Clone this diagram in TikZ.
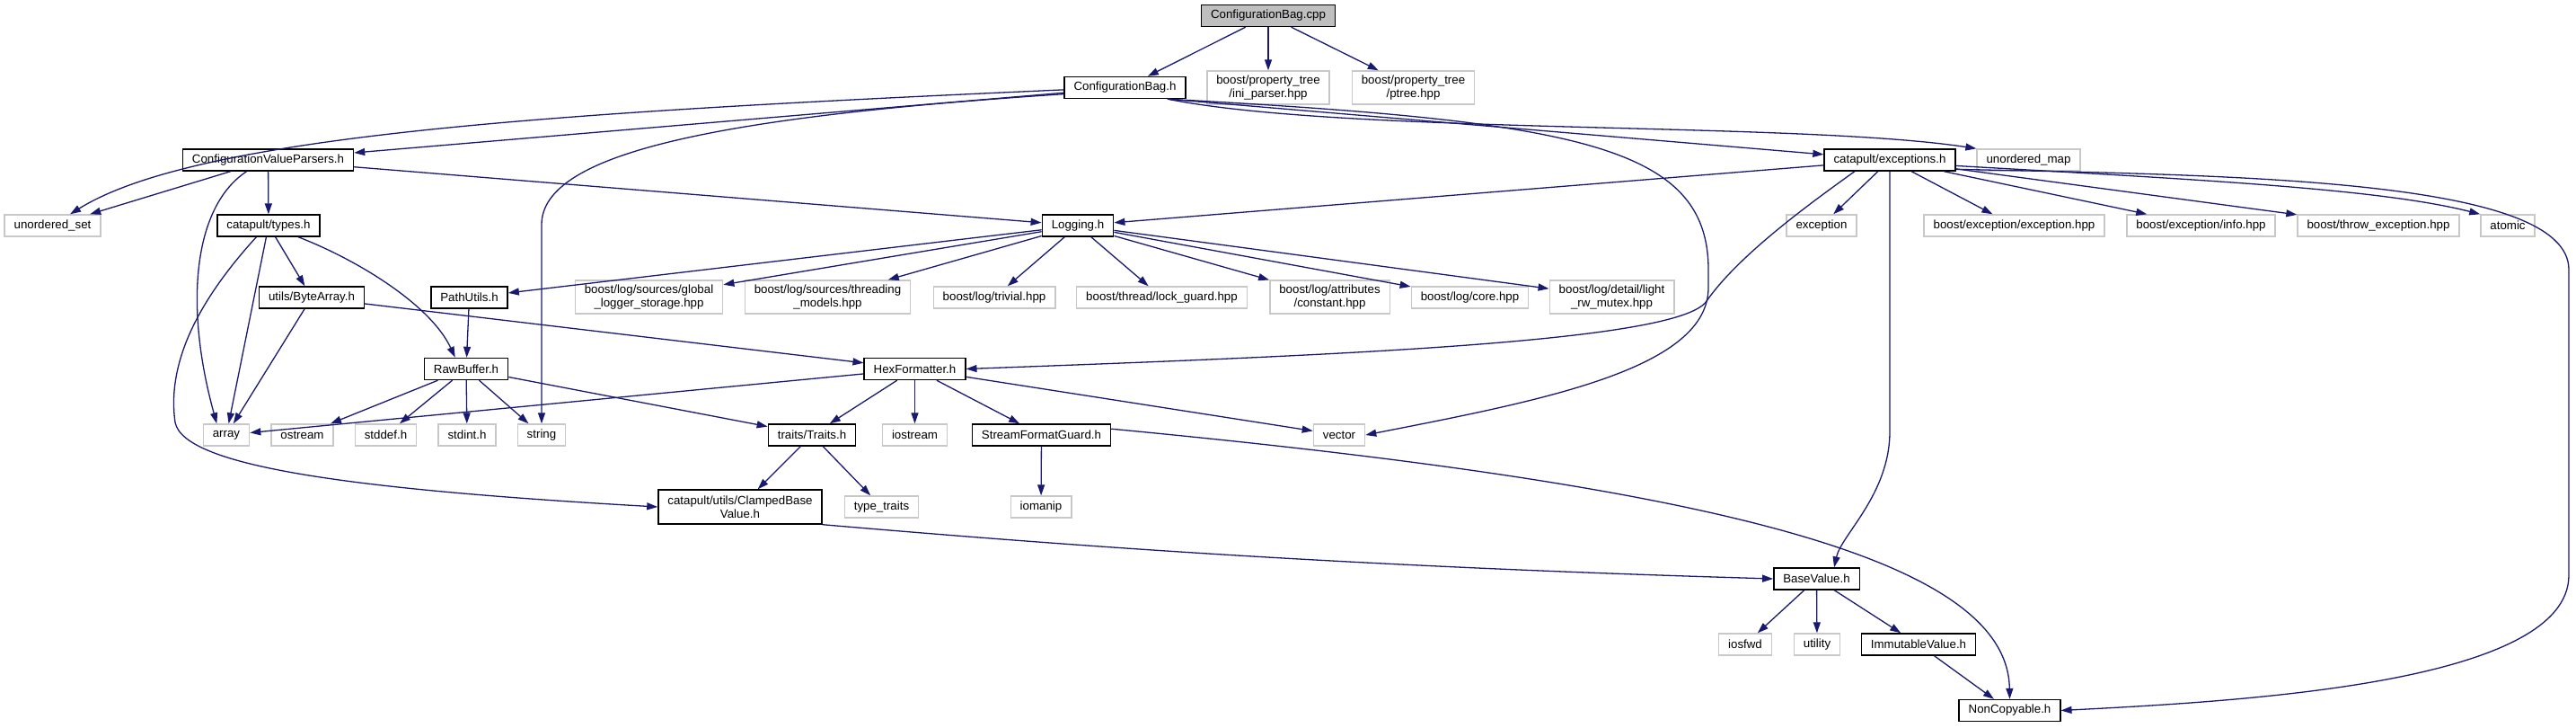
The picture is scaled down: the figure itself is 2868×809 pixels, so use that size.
\documentclass[tikz,border=0pt]{standalone}
\usepackage{fontspec}
\setmainfont{Liberation Sans}
\usepackage{tikz}
\usetikzlibrary{arrows.meta, positioning}

\definecolor{edgeblue}{RGB}{25,25,112}
\definecolor{sysgray}{RGB}{200,200,200}
\definecolor{rootgray}{RGB}{191,191,191}

\begin{document}
\begin{tikzpicture}[x=1pt, y=-1pt,
    every node/.style={font=\fontsize{13.3}{14.6}\selectfont, inner xsep=10.5pt, inner ysep=0pt, minimum height=24pt, line width=1.4pt},
    hdr/.style={draw=black, fill=white},
    sys/.style={draw=sysgray, fill=white},
    root/.style={draw=black, fill=rootgray},
    two/.style={align=center, minimum height=37pt},
    dep/.style={draw=edgeblue, line width=1.3pt, -{Triangle[length=12pt, width=8pt]}}]
    \useasboundingbox (0,0) rectangle (2868,809);

    % Root file and its direct includes
    \node[root] (cpp) at (1412,17.5) {ConfigurationBag.cpp};
    \node[hdr] (bagh) at (1252.5,97.5) {ConfigurationBag.h};
    \node[sys, two] (ini) at (1412,97.5) {boost/property\_tree\\/ini\_parser.hpp};
    \node[sys, two] (ptree) at (1573.5,97.5) {boost/property\_tree\\/ptree.hpp};

    % Second row
    \node[hdr] (cvp) at (298.5,178) {ConfigurationValueParsers.h};
    \node[hdr] (exc) at (2104,178) {catapult/exceptions.h};
    \node[sys] (umap) at (2258.5,178) {unordered\_map};

    % Third row
    \node[sys] (uset) at (58.5,251) {unordered\_set};
    \node[hdr] (types) at (299,251) {catapult/types.h};
    \node[hdr] (logging) at (1200,251) {Logging.h};
    \node[sys] (exception) at (2028,251) {exception};
    \node[sys] (bexc) at (2242.5,251) {boost/exception/exception.hpp};
    \node[sys] (binfo) at (2450.5,251) {boost/exception/info.hpp};
    \node[sys] (bthrow) at (2648,251) {boost/throw\_exception.hpp};
    \node[sys] (atomic) at (2792,251) {atomic};

    % Logging includes
    \node[hdr] (bytearray) at (347,331) {utils/ByteArray.h};
    \node[hdr] (pathutils) at (522.5,331) {PathUtils.h};
    \node[sys, two] (glogger) at (722.5,330.5) {boost/log/sources/global\\\_logger\_storage.hpp};
    \node[sys, two] (threading) at (921.5,330.5) {boost/log/sources/threading\\\_models.hpp};
    \node[sys] (trivial) at (1107,331) {boost/log/trivial.hpp};
    \node[sys] (lockguard) at (1293.5,331) {boost/thread/lock\_guard.hpp};
    \node[sys, two] (constant) at (1480.5,330.5) {boost/log/attributes\\/constant.hpp};
    \node[sys] (core) at (1636.5,331) {boost/log/core.hpp};
    \node[sys, two] (rwmutex) at (1794.5,330.5) {boost/log/detail/light\\\_rw\_mutex.hpp};

    % Buffers and formatters
    \node[hdr] (rawbuffer) at (519,410.5) {RawBuffer.h};
    \node[hdr] (hexfmt) at (1018.5,410.5) {HexFormatter.h};

    % Standard headers row
    \node[sys] (array) at (252,484) {array};
    \node[sys] (ostream) at (336.5,484) {ostream};
    \node[sys] (stddef) at (429.5,484) {stddef.h};
    \node[sys] (stdint) at (520,484) {stdint.h};
    \node[sys] (string) at (603,484) {string};
    \node[hdr] (traits) at (904,484) {traits/Traits.h};
    \node[sys] (iostream) at (1018.5,484) {iostream};
    \node[hdr] (sfg) at (1159.5,484) {StreamFormatGuard.h};
    \node[sys] (vector) at (1491,484) {vector};

    % Lower rows
    \node[hdr, two, minimum height=38pt] (clamped) at (824,564) {catapult/utils/ClampedBase\\Value.h};
    \node[sys] (typetraits) at (981.5,564) {type\_traits};
    \node[sys] (iomanip) at (1159,564) {iomanip};
    \node[hdr] (basevalue) at (2022.5,644) {BaseValue.h};
    \node[sys] (iosfwd) at (1943,717) {iosfwd};
    \node[sys] (utility) at (2023,717) {utility};
    \node[hdr] (immutable) at (2136,717) {ImmutableValue.h};
    \node[hdr] (noncopy) at (2237.5,790.5) {NonCopyable.h};

    % ConfigurationBag.cpp
    \draw[dep] (cpp) -- (bagh);
    \draw[dep] (cpp) -- (ini);
    \draw[dep] (cpp) -- (ptree);

    % ConfigurationBag.h
    \draw[dep] (bagh.182) .. controls (620,125) and (220,150) .. (uset.33);
    \draw[dep] (bagh.186) .. controls (800,130) and (603,170) .. (603,250) -- (string);
    \draw[dep] (bagh) -- (cvp);
    \draw[dep] (bagh.-15) -- (exc);
    \draw[dep] (bagh.-15) .. controls (1500,150) and (2000,135) .. (umap.north west);
    \draw[dep] (bagh.-15) .. controls (1750,135) and (1902,160) .. (1902,300) -- (1902,320) .. controls (1902,410) and (1720,445) .. (vector.east);

    % ConfigurationValueParsers.h
    \draw[dep] (cvp) -- (uset);
    \draw[dep] (cvp) -- (types);
    \draw[dep] (cvp.-152) .. controls (215,230) and (205,340) .. (array.130);
    \draw[dep] (cvp) -- (logging);

    % catapult/types.h
    \draw[dep] (types) -- (array);
    \draw[dep] (types) -- (bytearray);
    \draw[dep] (types.-21) .. controls (400,290) and (480,340) .. (rawbuffer.134);
    \draw[dep] (types.-137) .. controls (225,330) and (185,400) .. (195,470) .. controls (205,520) and (400,545) .. (clamped.west);

    % utils/ByteArray.h and PathUtils.h
    \draw[dep] (bytearray) -- (array);
    \draw[dep] (bytearray) -- (hexfmt);
    \draw[dep] (pathutils) -- (rawbuffer);

    % Logging.h
    \draw[dep] (logging) -- (pathutils);
    \draw[dep] (logging) -- (glogger);
    \draw[dep] (logging) -- (threading);
    \draw[dep] (logging) -- (trivial);
    \draw[dep] (logging) -- (lockguard);
    \draw[dep] (logging) -- (constant);
    \draw[dep] (logging) -- (core);
    \draw[dep] (logging) -- (rwmutex);

    % RawBuffer.h
    \draw[dep] (rawbuffer) -- (ostream);
    \draw[dep] (rawbuffer) -- (stddef);
    \draw[dep] (rawbuffer) -- (stdint);
    \draw[dep] (rawbuffer) -- (string);
    \draw[dep] (rawbuffer) -- (traits);

    % HexFormatter.h
    \draw[dep] (hexfmt) -- (array);
    \draw[dep] (hexfmt) -- (traits);
    \draw[dep] (hexfmt) -- (iostream);
    \draw[dep] (hexfmt) -- (sfg);
    \draw[dep] (hexfmt) -- (vector);

    % StreamFormatGuard.h and traits/Traits.h
    \draw[dep] (sfg) -- (iomanip);
    \draw[dep] (sfg.5) .. controls (1900,540) and (2235,620) .. (noncopy.north);
    \draw[dep] (traits) -- (clamped);
    \draw[dep] (traits) -- (typetraits);
    \draw[dep] (clamped.south east) .. controls (1200,608) and (1500,630) .. (basevalue.west);

    % catapult/exceptions.h
    \draw[dep] (exc) -- (logging);
    \draw[dep] (exc.198) .. controls (2010,230) and (1935,285) .. (1900,335) .. controls (1870,380) and (1500,395) .. (hexfmt.east);
    \draw[dep] (exc) -- (exception);
    \draw[dep] (exc) -- (bexc);
    \draw[dep] (exc) -- (binfo);
    \draw[dep] (exc) -- (bthrow);
    \draw[dep] (exc.-5) .. controls (2450,200) and (2650,210) .. (atomic.north west);
    \draw[dep] (exc.south) -- (2104,480) .. controls (2104,550) and (2050,595) .. (basevalue.33);
    \draw[dep] (exc.-8) .. controls (2500,195) and (2860,200) .. (2860,300) -- (2860,640) .. controls (2860,760) and (2500,780) .. (noncopy.east);

    % BaseValue.h
    \draw[dep] (basevalue) -- (iosfwd);
    \draw[dep] (basevalue) -- (utility);
    \draw[dep] (basevalue) -- (immutable);
    \draw[dep] (immutable) -- (noncopy);
\end{tikzpicture}
\end{document}
